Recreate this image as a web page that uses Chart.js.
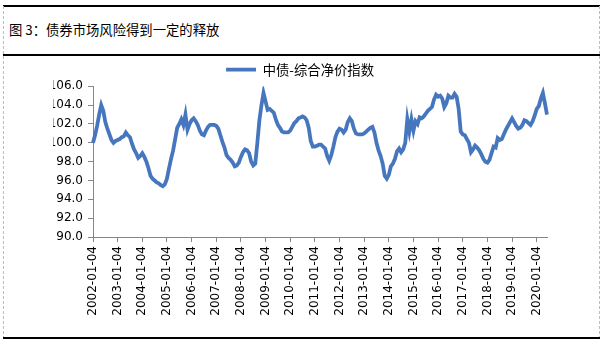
<!DOCTYPE html>
<html>
<head>
<meta charset="utf-8">
<script src="https://cdn.jsdelivr.net/npm/chart.js@4.4.0/dist/chart.umd.min.js"></script>
<style>
html, body { margin: 0; padding: 0; background: #fff; }
#wrap { position: relative; width: 606px; height: 344px; overflow: hidden; }
.hline { position: absolute; left: 3px; width: 597px; height: 2px; background: #000; }
.vline { position: absolute; top: 6px; height: 333px; width: 0; border-left: 1px dashed #bdbdbd; }
#title { position: absolute; left: 9px; top: 20px; font: 13.33px "Noto Sans CJK SC", sans-serif; color: #000; line-height: 20px; white-space: nowrap; }
canvas { position: absolute; left: 0; top: 0; }
</style>
</head>
<body>
<div id="wrap">
  <div class="hline" style="top:5px"></div>
  <div id="title">图 3：债券市场风险得到一定的释放</div>
  <div class="hline" style="top:54px"></div>
  <div class="vline" style="left:3px"></div>
  <div class="vline" style="left:599px"></div>
  <div class="hline" style="top:337px"></div>
  <canvas id="chart" width="606" height="344"></canvas>
</div>
<script>
// 中债-综合净价指数, one reading per month, 2002-01 .. 2020-06
const seriesName = '中债-综合净价指数';
const indexValues = [
  100.0, 100.8, 101.8, 103.0, 104.0, 103.4, 102.2, 101.5, 100.9, 100.3, 100.0, 100.2, // 2002
  100.3, 100.4, 100.6, 100.7, 101.1, 100.8, 100.6, 99.9, 99.3, 98.9, 98.4, 98.6,       // 2003
  98.9, 98.5, 98.0, 97.3, 96.5, 96.2, 96.0, 95.8, 95.7, 95.5, 95.4, 95.6,              // 2004
  96.2, 97.3, 98.3, 99.2, 100.4, 101.6, 102.0, 102.5, 101.9, 103.0, 101.4, 102.0,      // 2005
  102.4, 102.6, 102.3, 101.9, 101.3, 100.9, 100.8, 101.3, 101.7, 101.9, 101.9, 101.9,  // 2006
  101.8, 101.5, 100.8, 100.1, 99.5, 98.7, 98.4, 98.2, 97.9, 97.5, 97.6, 97.9,          // 2007
  98.5, 99.0, 99.3, 99.2, 98.9, 98.0, 97.6, 97.8, 100.0, 102.4, 104.0, 105.3,          // 2008
  104.4, 103.5, 103.6, 103.4, 103.2, 102.5, 101.9, 101.6, 101.2, 101.1, 101.1, 101.1,  // 2009
  101.3, 101.7, 102.1, 102.3, 102.6, 102.7, 102.8, 102.7, 102.4, 101.6, 100.2, 99.6,   // 2010
  99.6, 99.7, 99.8, 99.8, 99.6, 99.4, 98.6, 98.1, 98.7, 99.6, 100.6, 101.2,            // 2011
  101.5, 101.4, 101.1, 101.4, 102.2, 102.6, 102.3, 101.5, 101.0, 100.9, 100.9, 100.9,  // 2012
  101.0, 101.2, 101.4, 101.6, 101.7, 101.1, 100.0, 99.2, 98.6, 97.8, 96.5, 96.2,       // 2013
  96.6, 97.5, 97.8, 98.3, 99.1, 99.4, 99.0, 99.3, 100.0, 102.5, 101.2, 102.5,          // 2014
  101.3, 102.3, 102.0, 102.7, 102.6, 102.8, 103.1, 103.4, 103.6, 103.8, 104.6, 105.1,  // 2015
  104.9, 105.0, 104.7, 103.8, 104.2, 105.0, 104.8, 104.8, 105.2, 104.9, 103.6, 101.2,  // 2016
  100.9, 100.8, 100.4, 100.0, 99.0, 99.3, 99.7, 99.5, 99.2, 98.8, 98.3, 98.0,          // 2017
  97.9, 98.2, 98.9, 99.6, 99.5, 100.5, 100.3, 100.4, 100.9, 101.4, 101.8, 102.2,       // 2018
  102.6, 102.2, 101.8, 101.5, 101.6, 101.9, 102.4, 102.3, 102.1, 101.9, 102.3, 102.9,  // 2019
  103.6, 103.9, 104.7, 105.3, 104.2, 103.0                                             // 2020
];
const startYear = 2002;
const yTicks = [90, 92, 94, 96, 98, 100, 102, 104, 106];

// one category per month, labelled like the source ("YYYY-MM-04")
const categories = indexValues.map((v, i) => {
  const y = startYear + Math.floor(i / 12);
  const m = String(i % 12 + 1).padStart(2, '0');
  return y + '-' + m + '-04';
});

const tickFont = { family: 'DejaVu Sans', size: 12 };
const axisGrey = '#868686';

new Chart(document.getElementById('chart'), {
  type: 'line',
  data: {
    labels: categories,
    datasets: [{
      label: seriesName,
      data: indexValues,
      borderColor: '#4677be',
      backgroundColor: '#4677be',
      borderWidth: 3.8,
      pointRadius: 0,
      tension: 0,
      fill: false
    }]
  },
  options: {
    responsive: false,
    animation: false,
    layout: { padding: { top: 45, left: 53, right: 59, bottom: 0 } },
    plugins: {
      tooltip: { enabled: false },
      legend: {
        position: 'top',
        labels: {
          usePointStyle: true,
          pointStyle: 'line',
          pointStyleWidth: 30,
          padding: 18,
          color: '#000',
          font: { family: '"Noto Sans CJK SC"', size: 13.33 }
        }
      }
    },
    scales: {
      x: {
        type: 'category',
        offset: false,
        afterFit: s => { s.height = 107; },
        afterBuildTicks: s => {
          // only the January ticks carry a label and a tick mark
          s.ticks = s.ticks.filter(t => categories[t.value].slice(5, 7) === '01');
        },
        grid: { drawOnChartArea: false, drawTicks: true, tickLength: 5, color: axisGrey },
        border: { color: axisGrey },
        ticks: {
          autoSkip: false,
          maxRotation: 90,
          minRotation: 90,
          padding: 4,
          color: '#000',
          font: tickFont
        }
      },
      y: {
        min: yTicks[0],
        max: yTicks[yTicks.length - 1],
        afterFit: s => { s.width = 40; },
        afterBuildTicks: s => { s.ticks = yTicks.map(v => ({ value: v })); },
        grid: { drawOnChartArea: false, drawTicks: true, tickLength: 5, color: axisGrey },
        border: { color: axisGrey },
        ticks: {
          padding: 5,
          color: '#000',
          font: tickFont,
          callback: v => v.toFixed(1)
        }
      }
    }
  }
});
</script>
</body>
</html>
